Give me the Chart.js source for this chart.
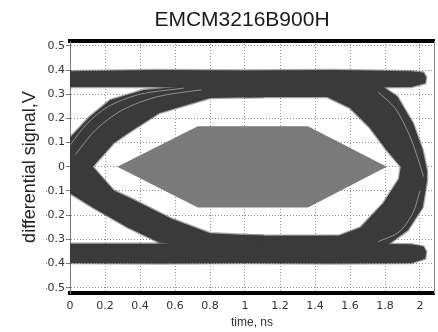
<!DOCTYPE html>
<html>
<head>
<meta charset="utf-8">
<script src="https://cdn.jsdelivr.net/npm/chart.js@4.4.1/dist/chart.umd.min.js"></script>
<style>
  body { margin: 0; background: #fff; }
  canvas { display: block; }
</style>
</head>
<body>
<canvas id="myChart" width="438" height="332"></canvas>
<script>
const xTicks = [0, 0.2, 0.4, 0.6, 0.8, 1, 1.2, 1.4, 1.6, 1.8, 2];
const xTickLabels = ['0', '0.2', '0.4', '0.6', '0.8', '1', '1.2', '1.4', '1.6', '1.8', '2'];
const yTicks = [-0.5, -0.4, -0.3, -0.2, -0.1, 0, 0.1, 0.2, 0.3, 0.4, 0.5];
const yTickLabels = ['-0.5', '-0.4', '-0.3', '-0.2', '-0.1', '0', '0.1', '0.2', '0.3', '0.4', '0.5'];

// outlines (time ns, volts)
const topBandX = [0, 0.5, 1.0, 1.5, 1.95, 2.02, 2.035, 2.03, 1.95, 1.5, 1.0, 0.5, 0];
const topBandY = [0.395, 0.4, 0.398, 0.4, 0.395, 0.39, 0.37, 0.345, 0.33, 0.328, 0.33, 0.33, 0.33];
const bottomBandX = [0, 0.5, 1.0, 1.5, 1.95, 2.02, 2.035, 2.03, 1.95, 1.5, 1.0, 0.5, 0];
const bottomBandY = [-0.318, -0.318, -0.32, -0.318, -0.32, -0.33, -0.35, -0.38, -0.398, -0.4, -0.398, -0.4, -0.398];
const leftCrossX = [0, 0.11, 0.23, 0.42, 0.69, 1.1, 1.1, 0.8, 0.51, 0.33, 0.25, 0.13, 0.25, 0.36, 0.58, 0.8, 1.1, 1.1, 0.69, 0.51, 0.33, 0.13, 0];
const leftCrossY = [0.12, 0.205, 0.276, 0.317, 0.335, 0.335, 0.288, 0.284, 0.222, 0.139, 0.098, 0, -0.098, -0.135, -0.215, -0.275, -0.285, -0.33, -0.33, -0.313, -0.251, -0.168, -0.11];
const rightCrossX = [1.0, 1.78, 1.87, 1.96, 2.015, 2.04, 2.04, 2.015, 1.93, 1.83, 1.78, 1.0, 1.0, 1.54, 1.66, 1.79, 1.88, 1.89, 1.81, 1.71, 1.6, 1.47, 1.0];
const rightCrossY = [0.335, 0.335, 0.29, 0.18, 0.07, -0.015, -0.056, -0.168, -0.263, -0.315, -0.33, -0.33, -0.285, -0.284, -0.251, -0.151, -0.05, 0, 0.068, 0.164, 0.243, 0.288, 0.288];
const maskX = [0.27, 0.73, 1.36, 1.81, 1.36, 0.73];
const maskY = [0, 0.168, 0.168, 0, -0.168, -0.168];
const streak1X = [0.0, 0.1, 0.22, 0.4, 0.65];
const streak1Y = [0.09, 0.18, 0.25, 0.3, 0.325];
const streak2X = [0.03, 0.15, 0.3, 0.5, 0.75];
const streak2Y = [0.05, 0.155, 0.235, 0.29, 0.318];
const streak3X = [1.76, 1.86, 1.94, 1.99, 2.02];
const streak3Y = [0.31, 0.24, 0.13, 0.03, -0.04];
const streak4X = [2.0, 1.96, 1.88, 1.76];
const streak4Y = [-0.1, -0.19, -0.27, -0.31];

const pts = (xs, ys) => xs.map((x, i) => ({x: x, y: ys[i]}));

const shape = (xs, ys, color, edge) => ({
  data: pts(xs, ys),
  showLine: true,
  fill: 'shape',
  backgroundColor: color,
  borderColor: edge,
  borderWidth: 2.5,
  pointRadius: 0,
  tension: 0,
});

const streak = (xs, ys) => ({
  data: pts(xs, ys),
  showLine: true,
  fill: false,
  borderColor: 'rgba(190,190,190,0.65)',
  borderWidth: 1,
  pointRadius: 0,
  tension: 0.3,
});

const dark = '#3a3a3a';
const soft = 'rgba(58,58,58,0.45)';
const gridColor = '#8f8f8f';
const tickFont = {family: 'DejaVu Sans', size: 11};

var ctx = document.getElementById('myChart').getContext('2d');

new Chart(ctx, {
  type: 'scatter',
  data: {
    datasets: [
      Object.assign(shape(maskX, maskY, '#7b7b7b', '#7b7b7b'), {borderWidth: 0}),
      streak(streak1X, streak1Y),
      streak(streak2X, streak2Y),
      streak(streak3X, streak3Y),
      streak(streak4X, streak4Y),
      shape(leftCrossX, leftCrossY, dark, soft),
      shape(rightCrossX, rightCrossY, dark, soft),
      shape(topBandX, topBandY, dark, soft),
      shape(bottomBandX, bottomBandY, dark, soft),
    ],
  },
  options: {
    responsive: false,
    animation: false,
    layout: {padding: {left: 46, right: 0, top: 0, bottom: 0}},
    plugins: {
      legend: {display: false},
      tooltip: {enabled: false},
      title: {
        display: true,
        text: 'EMCM3216B900H',
        color: '#1a1a1a',
        font: {family: 'Liberation Sans', size: 21, weight: 'normal'},
        padding: {top: 7.4, bottom: 0},
      },
    },
    scales: {
      x: {
        type: 'linear',
        position: 'bottom',
        min: 0,
        max: 2.08,
        afterBuildTicks: (s) => { s.ticks = xTicks.map((v) => ({value: v})); },
        afterFit: (s) => { s.height = 39; },
        ticks: {
          font: tickFont,
          color: '#333',
          padding: 7,
          callback: (v, i) => xTickLabels[i],
        },
        grid: {color: gridColor, drawTicks: false},
        border: {color: '#000', width: 4, dash: [1, 2]},
        title: {
          display: true,
          text: 'time, ns',
          color: '#333',
          font: {family: 'Liberation Sans', size: 12},
          padding: {top: 0, bottom: 1.8},
        },
      },
      x2: {
        type: 'linear',
        axis: 'x',
        position: 'top',
        min: 0,
        max: 2.08,
        afterFit: (s) => { s.height = 8.4; },
        ticks: {display: false},
        grid: {display: false},
        border: {color: '#000', width: 4},
      },
      y: {
        type: 'linear',
        position: 'left',
        min: -0.522,
        max: 0.52,
        afterBuildTicks: (s) => { s.ticks = yTicks.map((v) => ({value: v})); },
        afterFit: (s) => { s.width = 24; },
        ticks: {
          font: tickFont,
          color: '#333',
          padding: 1,
          callback: (v, i) => yTickLabels[i],
        },
        grid: {color: gridColor, drawTicks: true, tickLength: 4, tickColor: '#777', tickBorderDash: []},
        border: {color: '#777', width: 1, dash: [1, 2]},
        title: {
          display: true,
          text: 'differential signal,V',
          color: '#222',
          font: {family: 'Liberation Sans', size: 18},
          padding: {top: -26.8, bottom: 0},
        },
      },
      y2: {
        type: 'linear',
        axis: 'y',
        position: 'right',
        min: -0.522,
        max: 0.52,
        afterFit: (s) => { s.width = 4; },
        ticks: {display: false},
        grid: {display: false},
        border: {color: '#888', width: 1},
      },
    },
  },
});
</script>
</body>
</html>
